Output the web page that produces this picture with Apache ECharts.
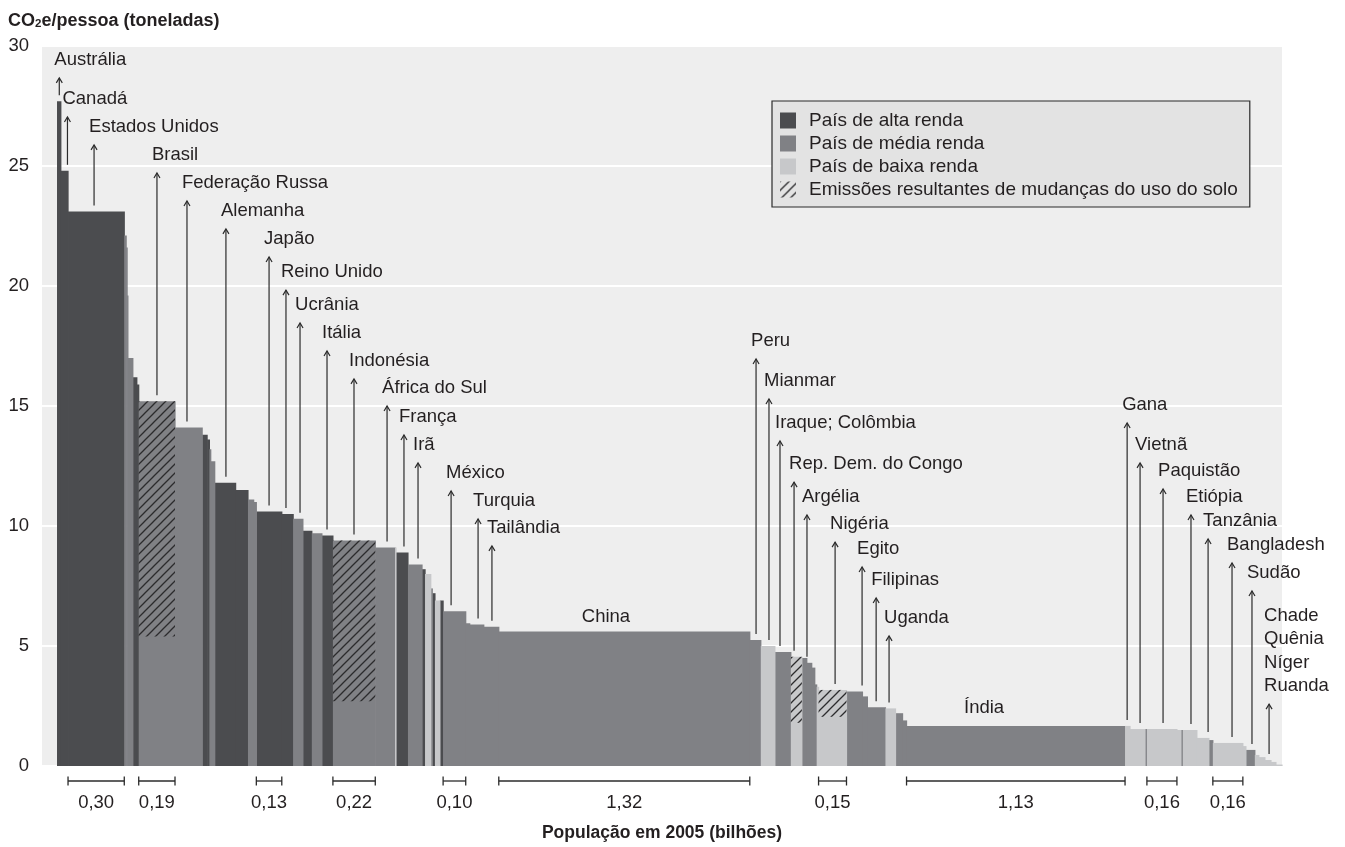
<!DOCTYPE html>
<html><head><meta charset="utf-8">
<script src="https://cdn.jsdelivr.net/npm/echarts@6/dist/echarts.min.js"></script>
<style>html,body{margin:0;padding:0;background:#fff}#c{width:1345px;height:847px}</style>
</head><body><div id="c"></div>
<script>
// ---------------- DATA ----------------
// Bars from left to right: population in 2005 (millions), CO2e per person (t), income class
const barPop = [20,38,296,10,5,4,26,21,10,191,143,26,12,7,21,110,65,30,14,134,60,51,47,53,58,223,104,5,63,74,16,30,8,14,26,17,119,21,74,79,1321,58,74,84,58,26,26,16,10,10,147,84,26,95,53,37,21,1150,26,79,10,158,21,10,74,63,21,158,16,47,21,32,32,26,32];
const barValue = [27.7,24.8,23.1,22.1,21.6,19.6,17.0,16.2,15.9,15.2,14.1,13.8,13.6,13.2,12.7,11.8,11.5,11.1,11.0,10.6,10.5,10.3,9.8,9.7,9.6,9.4,9.1,9.1,8.9,8.4,8.2,8.0,7.4,7.2,6.9,6.9,6.45,5.95,5.9,5.8,5.6,5.25,5.0,4.75,4.55,4.5,4.3,4.1,3.4,3.3,3.17,3.1,2.9,2.45,2.4,2.2,1.9,1.67,1.67,1.54,1.54,1.54,1.5,1.5,1.5,1.17,1.08,0.96,0.83,0.67,0.46,0.37,0.25,0.17,0.06];
// H = alta renda, M = média renda, L = baixa renda
const barClass = ("HHHMMMMHHM" + "MHHMMHHMMH" + "HMHMHMMLHM" + "HLMHLHMMMM" + "MMLMLMMMML" +
                  "LMMMLMMMLL" + "MLLMLLMLLM" + "LLLLL").split('');
// Land-use-change emissions: bar index and lower bound of the hatched part (t)
const hatchBars = [9, 25, 44, 50];
const hatchFrom = [5.4, 2.7, 1.8, 2.05];
// Population brackets under the axis: bar index and label
const bracketBars = [2, 9, 19, 25, 36, 40, 50, 57, 61, 67];
const bracketLabels = ['0,30','0,19','0,13','0,22','0,10','1,32','0,15','1,13','0,16','0,16'];
// Country annotations: name, population position (millions, cumulative), level of the label's last line (t)
const annoNames = ['Austrália','Canadá','Estados Unidos','Brasil','Federação Russa','Alemanha','Japão','Reino Unido','Ucrânia','Itália','Indonésia','África do Sul','França','Irã','México','Turquia','Tailândia','Peru','Mianmar','Iraque; Colômbia','Rep. Dem. do Congo','Argélia','Nigéria','Egito','Filipinas','Uganda','Gana','Vietnã','Paquistão','Etiópia','Tanzânia','Bangladesh','Sudão','Chade\nQuênia\nNíger\nRuanda'];
const annoPos = [12,55,195,526,684,889,1116,1205,1279,1421,1563,1737,1826,1900,2074,2216,2289,3679,3747,3805,3879,3947,4095,4237,4311,4379,5632,5700,5821,5968,6058,6184,6289,6379];
const annoLevel = [29.42,27.79,26.63,25.46,24.29,23.13,21.96,20.58,19.21,18.04,16.88,15.75,14.54,13.38,12.21,11.04,9.92,17.71,16.04,14.29,12.58,11.21,10.08,9.04,7.75,6.17,15.04,13.38,12.29,11.21,10.21,9.21,8.04,3.33];
// Plain labels placed over bars (no arrow)
const plainNames = ['China','Índia'];
const plainPos = [2889, 4879];
const plainLevel = [6.21, 2.42];

const yTicks = [0,5,10,15,20,25,30];

// ---------------- BUILD ----------------
const FONT = '"Liberation Sans", Arial, sans-serif';
const FS = 18.5;
const TXT = '#231f20';
const colors = {H:'#4b4c4f', M:'#808185', L:'#c7c8ca'};
const classNames = {H:'País de alta renda', M:'País de média renda', L:'País de baixa renda'};
const hatchName = 'Emissões resultantes de mudanças do uso do solo';

function makeHatch(){
  const c = document.createElement('canvas'); c.width = 9; c.height = 9;
  const g = c.getContext('2d');
  g.strokeStyle = '#2b2b2d'; g.lineWidth = 1.3; g.lineCap = 'butt';
  g.beginPath();
  g.moveTo(0,9); g.lineTo(9,0);
  g.moveTo(-2,2); g.lineTo(2,-2);
  g.moveTo(7,11); g.lineTo(11,7);
  g.stroke();
  return c;
}
const hatchFill = {image: makeHatch(), repeat: 'repeat'};

const starts = []; let acc = 0;
barPop.forEach(p => { starts.push(acc); acc += p; });
const totalPop = acc;
function barTopAt(pos){
  for (let i = 0; i < barPop.length; i++) if (pos >= starts[i] && pos < starts[i] + barPop[i]) return barValue[i];
  return 0;
}

function barSeries(cls){
  const data = [];
  barPop.forEach((p,i) => { if (barClass[i] === cls) data.push([starts[i], starts[i] + p, barValue[i]]); });
  return {
    type:'custom', name: classNames[cls], coordinateSystem:'cartesian2d', silent:true, z:2,
    itemStyle:{color: colors[cls]}, data, encode:{x:[0,1], y:2},
    renderItem(params, api){
      const a = api.coord([api.value(0), 0]), b = api.coord([api.value(1), api.value(2)]);
      return {type:'rect', shape:{x:a[0], y:b[1], width:b[0]-a[0]+0.6, height:a[1]-b[1]}, style:{fill: colors[cls]}};
    }
  };
}

const hatchData = hatchBars.map((bi,k) => [starts[bi], starts[bi] + barPop[bi], barValue[bi], hatchFrom[k]]);
const LH = 23.5;

const annoData = annoNames.map((n,i) => [annoPos[i], annoLevel[i], barTopAt(annoPos[i])]);
const plainData = plainNames.map((n,i) => [plainPos[i], plainLevel[i]]);
const bracketData = bracketBars.map(bi => [starts[bi], starts[bi] + barPop[bi]]);

const option = {
  animation:false,
  backgroundColor:'#ffffff',
  title:{
    left:8, top:10, padding:0,
    text:'{a|CO}{b|2}{a|e/pessoa (toneladas)}',
    textStyle:{rich:{
      a:{fontFamily:FONT, fontWeight:'bold', fontSize:18, color:TXT, lineHeight:20, verticalAlign:'bottom'},
      b:{fontFamily:FONT, fontWeight:'bold', fontSize:11.5, color:TXT, lineHeight:6, verticalAlign:'bottom'}
    }}
  },
  legend:{
    orient:'vertical', left:772, top:101, selectedMode:false,
    backgroundColor:'#e3e3e3', borderColor:'#2b2b2b', borderWidth:1.2,
    padding:[10,12,8,8], itemWidth:16, itemHeight:16, itemGap:4, icon:'rect',
    textStyle:{fontFamily:FONT, fontSize:19, color:TXT, padding:[0,0,0,8]},
    data:[classNames.H, classNames.M, classNames.L, hatchName]
  },
  grid:{left:42, right:63, top:46, bottom:81, show:true, backgroundColor:'#eeeeee', borderWidth:0},
  xAxis:{
    type:'value', min:-79, max:totalPop,
    axisLine:{show:false}, axisTick:{show:false}, axisLabel:{show:false}, splitLine:{show:false},
    name:'População em 2005 (bilhões)', nameLocation:'middle', nameGap:58,
    nameTextStyle:{fontFamily:FONT, fontWeight:'bold', fontSize:17.5, color:TXT}
  },
  yAxis:{
    type:'value', min:yTicks[0], max:yTicks[yTicks.length-1], interval:5,
    axisLine:{show:false}, axisTick:{show:false},
    axisLabel:{fontFamily:FONT, fontSize:FS, color:TXT, margin:13},
    splitLine:{lineStyle:{color:'#ffffff', width:2}}
  },
  series:[
    barSeries('H'), barSeries('M'), barSeries('L'),
    {
      type:'custom', name:hatchName, coordinateSystem:'cartesian2d', silent:true, z:3,
      itemStyle:{color:hatchFill}, data:hatchData, encode:{x:[0,1], y:2},
      renderItem(params, api){
        const a = api.coord([api.value(0), api.value(3)]), b = api.coord([api.value(1), api.value(2)]);
        return {type:'rect', shape:{x:a[0], y:b[1], width:b[0]-a[0], height:a[1]-b[1]}, style:{fill:hatchFill}};
      }
    },
    {
      type:'custom', name:'annotations', coordinateSystem:'cartesian2d', silent:true, z:5,
      data:annoData, encode:{x:0, y:1},
      renderItem(params, api){
        const i = params.dataIndex;
        const x = api.coord([api.value(0), 0])[0];
        const yl = api.coord([0, api.value(1)])[1];
        const yb = api.coord([0, api.value(2)])[1];
        const top = yl + 18, bot = yb - 6;
        return {type:'group', children:[
          {type:'line', shape:{x1:x, y1:top, x2:x, y2:bot}, style:{stroke:'#2b2b2b', lineWidth:1.2}},
          {type:'polyline', shape:{points:[[x-3,top+5],[x,top],[x+3,top+5]]}, style:{stroke:'#2b2b2b', lineWidth:1.2, fill:null}},
          {type:'text', style:{text:annoNames[i], x:x-5, y:yl+LH/2, align:'left', verticalAlign:'bottom',
            fontFamily:FONT, fontSize:FS, lineHeight:LH, fill:TXT}}
        ]};
      }
    },
    {
      type:'custom', name:'plainLabels', coordinateSystem:'cartesian2d', silent:true, z:5,
      data:plainData, encode:{x:0, y:1},
      renderItem(params, api){
        const p = api.coord([api.value(0), api.value(1)]);
        return {type:'text', style:{text:plainNames[params.dataIndex], x:p[0], y:p[1], align:'center', verticalAlign:'middle',
          fontFamily:FONT, fontSize:FS, fill:TXT}};
      }
    },
    {
      type:'custom', name:'brackets', coordinateSystem:'cartesian2d', silent:true, z:5,
      data:bracketData, encode:{x:[0,1]},
      renderItem(params, api){
        const a = api.coord([api.value(0), 0]), b = api.coord([api.value(1), 0]);
        const y = a[1] + 15;
        const st = {stroke:'#2b2b2b', lineWidth:1.3};
        return {type:'group', children:[
          {type:'line', shape:{x1:a[0], y1:y, x2:b[0], y2:y}, style:st},
          {type:'line', shape:{x1:a[0], y1:y-4.5, x2:a[0], y2:y+4.5}, style:st},
          {type:'line', shape:{x1:b[0], y1:y-4.5, x2:b[0], y2:y+4.5}, style:st},
          {type:'text', style:{text:bracketLabels[params.dataIndex], x:(a[0]+b[0])/2, y:y+22, align:'center', verticalAlign:'middle',
            fontFamily:FONT, fontSize:FS, fill:TXT}}
        ]};
      }
    }
  ]
};
const chart = echarts.init(document.getElementById('c'), null, {renderer:'canvas'});
chart.setOption(option);
</script></body></html>
